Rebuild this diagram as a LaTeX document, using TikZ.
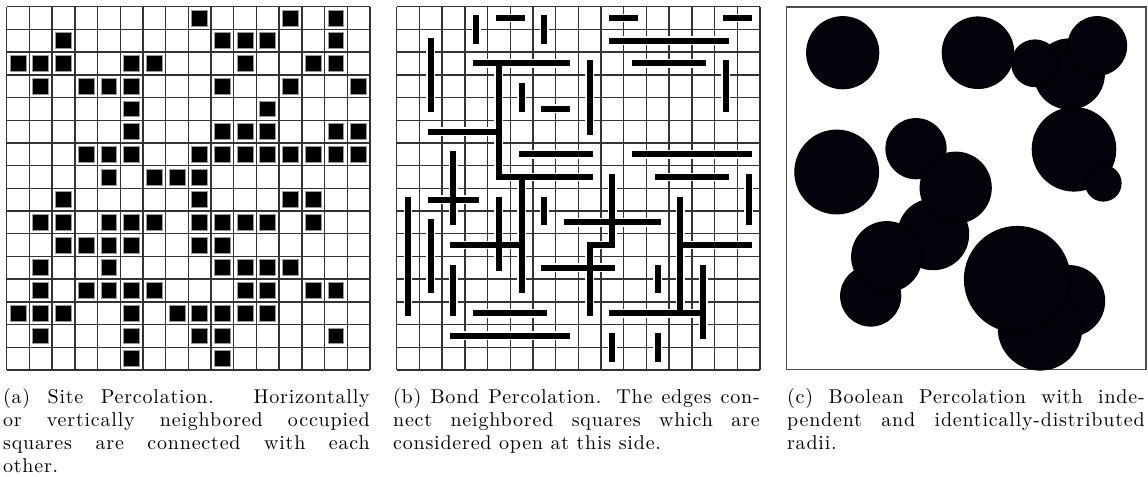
\documentclass[tikz,border=0pt]{standalone}
\usepackage{fontspec}
\newfontfamily\percfont{lmroman10-regular.otf}[LetterSpace=4]
\usepackage{tikz}
\definecolor{ink}{HTML}{02030B}
\definecolor{rule}{HTML}{333333}
\tikzset{
  gridline/.style={draw=rule,line width=0.7pt},
  site/.style={fill=black,draw=black!40,line width=0.35pt},
  bondhalo/.style={draw=white,line width=4.4pt,line cap=rect},
  bondbar/.style={draw=black,line width=3pt,line cap=rect},
  disk/.style={fill=ink,draw=black,line width=0.6pt},
  panelframe/.style={draw=black!70,line width=0.6pt},
  capt/.style={anchor=north west,inner sep=0pt,align=justify,
    font=\percfont\fontsize{10}{11.4}\selectfont},
}
\begin{document}
\begin{tikzpicture}[x=0.5pt,y=-0.5pt]
\useasboundingbox (0,0) rectangle (1148,477);
\begin{scope}[shift={(6.7,6.7)},x=11.35pt,y=-11.35pt]
\foreach \i in {0,...,16} {\draw[gridline] (\i,0) -- (\i,16); \draw[gridline] (0,\i) -- (16,\i);}
\foreach \r/\cs in {1/{9,13,15},2/{3,10,11,12,15},3/{1,2,3,6,7,11,14,15},4/{2,4,5,6,10,13,16},
  5/{6,12},6/{6,10,11,12,15,16},7/{4,5,6,9,10,11,12,13,14,15,16},8/{5,7,8,9},
  9/{3,9,13,14},10/{2,3,5,6,7,9,10,11,12,14},11/{3,4,5,6,9,10},12/{2,5,10,11,12,13},
  13/{2,4,5,6,7,11,12,14,15},14/{1,2,3,6,8,9,10,11,12},15/{2,6,9,10,15},16/{6,10}}
  \foreach \c in \cs \draw[site] (\c-0.85,\r-0.85) rectangle (\c-0.15,\r-0.15);
\end{scope}
\begin{scope}[shift={(396.7,6.7)},x=11.35pt,y=-11.35pt]
\foreach \i in {0,...,16} {\draw[gridline] (\i,0) -- (\i,16); \draw[gridline] (0,\i) -- (16,\i);}
\foreach \pass in {bondhalo,bondbar}
  \foreach \ca/\ra/\cb/\rb in {4/1/4/2,5/1/6/1,7/1/7/2,10/1/11/1,15/1/16/1,2/2/2/5,10/2/15/2,
    4/3/8/3,5/3/5/8,5/8/9/8,11/3/14/3,9/3/9/6,15/3/15/5,6/4/6/5,7/5/8/5,2/6/5/6,
    6/7/9/7,11/7/16/7,3/7/3/10,6/8/6/13,10/8/10/11,9/11/10/11,9/11/9/14,12/8/15/8,16/8/16/10,
    2/9/4/9,1/9/1/14,5/9/5/12,7/9/7/10,13/9/13/14,2/10/2/13,8/10/12/10,3/11/6/11,13/11/16/11,
    7/12/10/12,3/12/3/14,12/12/12/13,14/12/14/15,4/14/7/14,10/14/14/14,3/15/8/15,10/15/10/16,12/15/12/16}
    \draw[\pass] (\ca-0.5,\ra-0.5) -- (\cb-0.5,\rb-0.5);
\end{scope}
\draw[panelframe] (786.7,7) rectangle (1146,369.5);
\foreach \x/\y/\r in {842.7/52.7/36,978/52.7/35.7,1069.3/74/35,1035/63.3/23.3,1097.3/46/29.3,
  836.7/172/41.8,916/148.7/30,933.3/234.3/35.3,955.7/187.7/35.5,870.7/296/30,886.7/256.7/35,
  1074/149.3/41.7,1103.3/183.3/17.7,1069.3/301/35.3,1040/328.3/41.7,1017.3/279.3/52.8}
  \draw[disk] (\x,\y) circle[radius=\r*0.5pt];
\node[capt,text width=183.3pt] (capa) at (2.7,388.5) {(a) Site Percolation. Horizontally\linebreak or vertically neighbored occupied\linebreak squares are connected with each\linebreak other.};
\node[capt,text width=183.3pt] (capb) at (392.7,388.5) {(b) Bond Percolation. The edges con-\linebreak nect neighbored squares which are\linebreak considered open at this side.};
\node[capt,text width=178.8pt] (capc) at (786.7,388.5) {(c) Boolean Percolation with inde-\linebreak pendent and identically-distributed\linebreak radii.};
\end{tikzpicture}
\end{document}
